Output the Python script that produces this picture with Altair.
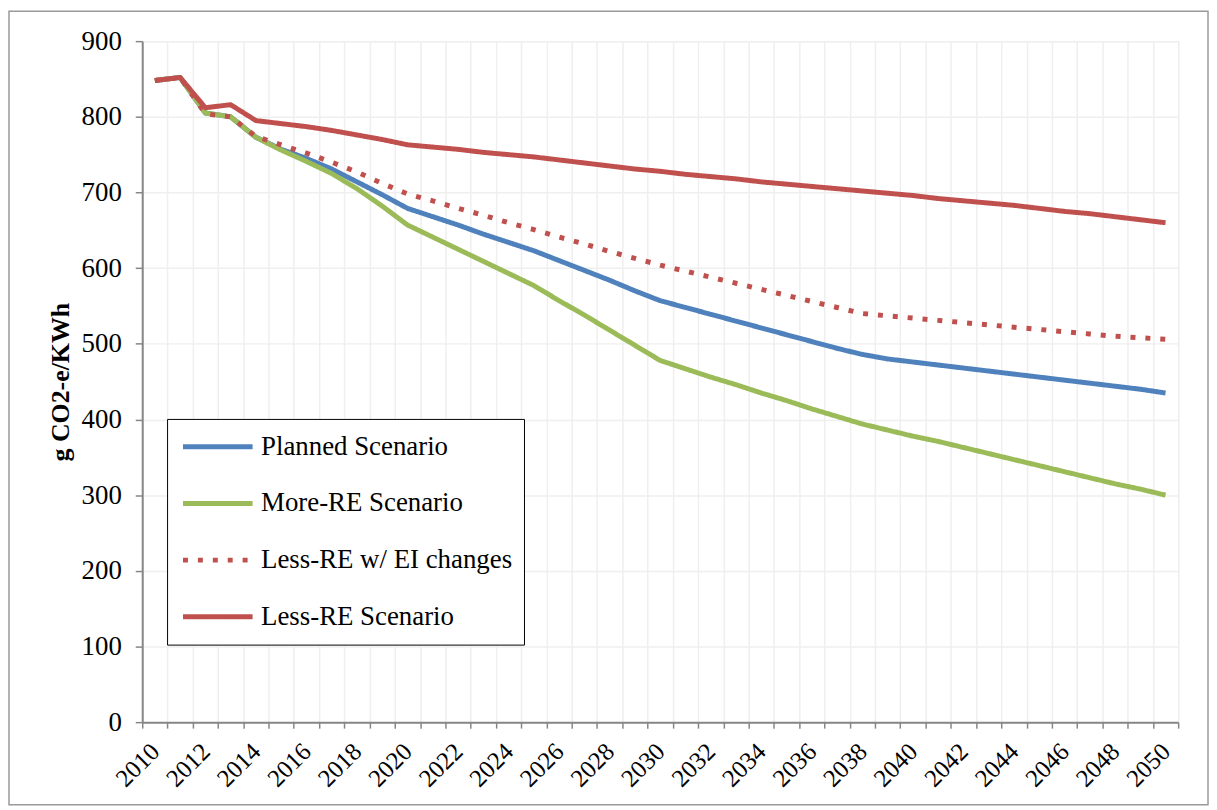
import altair as alt
import pandas as pd

years = list(range(2010, 2051))

planned = [848, 852, 805, 800, 773, 757, 745, 731, 714, 697, 679, 668, 657, 645, 634, 623,
           610, 597, 584, 570, 557, 548, 539, 530, 521, 512, 503, 494, 486, 480, 476, 472,
           468, 464, 460, 456, 452, 448, 444, 440, 435]
more_re = [848, 852, 805, 800, 773, 756, 741, 725, 705, 682, 657, 641, 625, 609, 593, 577,
           557, 538, 518, 498, 478, 467, 456, 446, 435, 425, 414, 404, 394, 386, 378, 371,
           363, 355, 347, 339, 331, 323, 315, 308, 300]
less_re_ei = [848, 852, 804, 800, 774, 763, 752, 740, 727, 712, 698, 689, 679, 670, 660, 651,
              641, 632, 622, 613, 604, 596, 588, 580, 572, 564, 556, 548, 540, 537, 534, 531,
              528, 525, 522, 519, 516, 513, 510, 508, 506]
less_re = [848, 852, 812, 816, 795, 791, 787, 782, 776, 770, 763, 760, 757, 753, 750, 747,
           743, 739, 735, 731, 728, 724, 721, 718, 714, 711, 708, 705, 702, 699, 696, 692,
           689, 686, 683, 679, 675, 672, 668, 664, 660]

series_names = ["Planned Scenario", "More-RE Scenario", "Less-RE w/ EI changes", "Less-RE Scenario"]
series_colors = ["#4F81BD", "#9BBB59", "#C0504D", "#C0504D"]
series_dash = [[1, 0], [1, 0], [5, 10], [1, 0]]
y_ticks = list(range(0, 901, 100))

rows = []
for name, vals in zip(series_names, [planned, more_re, less_re_ei, less_re]):
    for yr, v in zip(years, vals):
        rows.append({"year": yr, "value": v, "series": name})
df = pd.DataFrame(rows)

FONT = "Liberation Serif"
W, H = 1042, 685

legend = alt.Legend(title=None, orient="none", legendX=25, legendY=380,
                    strokeColor="black", fillColor="white", padding=11,
                    symbolType="stroke", symbolSize=4900, symbolOffset=2.5,
                    symbolStrokeWidth=5, labelFont=FONT,
                    labelFontSize=27, labelColor="black", clipHeight=34,
                    labelLimit=400, labelOffset=6, rowPadding=23)

lines = alt.Chart(df).mark_line(strokeWidth=5, strokeCap="butt", strokeJoin="round").encode(
    x=alt.X("year:O", bandPosition=0.5,
            scale=alt.Scale(type="band", paddingInner=0, paddingOuter=0),
            axis=alt.Axis(title=None, tickBand="extent", labelAngle=-45,
                          labelAlign="right", labelBaseline="middle",
                          labelExpr="datum.value % 2 == 0 ? datum.label : ''",
                          labelFont=FONT, labelFontSize=25, labelColor="black",
                          labelPadding=19, labelOverlap=False,
                          grid=True, gridColor="#efefef", gridWidth=1.5,
                          domainColor="#868686", domainWidth=2,
                          tickColor="#868686", tickWidth=1.5, tickSize=6)),
    y=alt.Y("value:Q", scale=alt.Scale(domain=[0, 900], nice=False, zero=True),
            axis=alt.Axis(title="g CO2-e/KWh", values=y_ticks,
                          titleFont=FONT, titleFontSize=26, titleFontWeight="bold",
                          titleColor="black", titlePadding=8,
                          labelFont=FONT, labelFontSize=27, labelColor="black",
                          labelPadding=14,
                          grid=True, gridColor="#efefef", gridWidth=1.5,
                          domainColor="#868686", domainWidth=2,
                          tickColor="#868686", tickWidth=1.5, tickSize=7)),
    color=alt.Color("series:N", scale=alt.Scale(domain=series_names, range=series_colors),
                    legend=legend),
    strokeDash=alt.StrokeDash("series:N",
                              scale=alt.Scale(domain=series_names, range=series_dash),
                              legend=legend),
)

frame = alt.Chart(pd.DataFrame({"f": [0]})).mark_rect(
    fill=None, stroke="#9a9a9a", strokeWidth=1.5
).encode(
    x=alt.value(-134), x2=alt.value(1072), y=alt.value(-30), y2=alt.value(768)
)

chart = alt.layer(frame, lines).properties(
    width=W, height=H, padding=0
).configure_view(stroke="black", strokeWidth=1.5).configure(background="white")

chart.save("out.html", embed_options={"renderer": "svg", "actions": False})
